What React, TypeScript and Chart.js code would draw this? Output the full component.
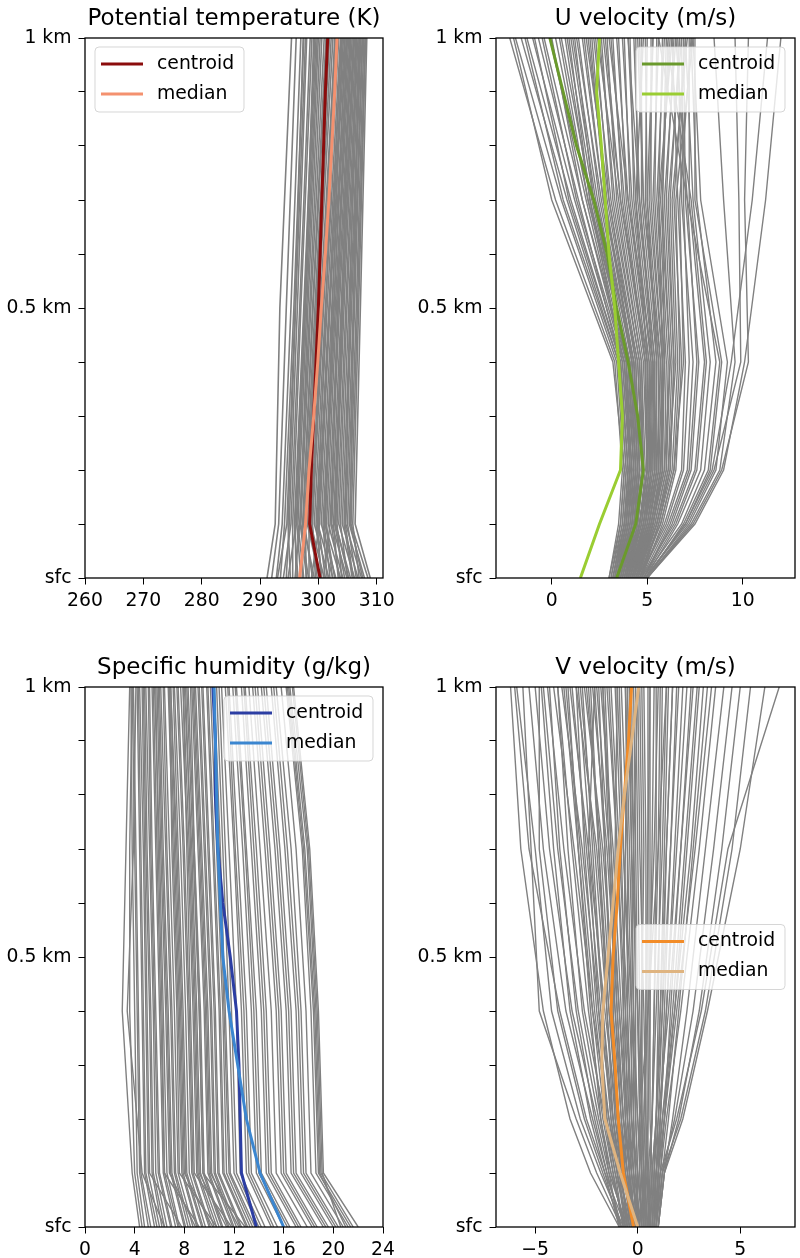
import React, { useEffect, useRef } from 'react';
import { Chart, registerables } from 'chart.js';

Chart.register(...registerables);

const FONT = "'DejaVu Sans', 'Liberation Sans', sans-serif";

// ---- shared height axis (km) ----
const heightTicks = [0, 0.1, 0.2, 0.3, 0.4, 0.5, 0.6, 0.7, 0.8, 0.9, 1.0];
const heightTickLabels = ['sfc', '', '', '', '', '0.5 km', '', '', '', '', '1 km'];
const summaryLevels = [0, 0.1, 0.2, 0.3, 0.4, 0.5, 0.6, 0.7, 0.8, 0.9, 1.0];

// ---- Potential temperature (K) ----
const thetaTicks = [260, 270, 280, 290, 300, 310];
const thetaLevels = [0, 0.1, 0.5, 1.0];
const thetaProfiles = [
  [291.2, 292.6, 293.4, 295.4], [292.0, 293.2, 294.5, 296.2], [292.8, 293.8, 295.3, 297.0],
  [293.5, 294.2, 295.8, 297.5], [293.0, 294.6, 296.0, 297.4], [294.5, 295.0, 296.4, 298.0],
  [294.0, 295.3, 296.8, 298.6], [295.6, 295.6, 297.0, 298.9], [296.5, 295.9, 297.5, 299.4],
  [294.8, 296.2, 297.8, 299.8], [297.5, 296.5, 298.0, 300.0], [296.0, 296.8, 298.5, 300.6],
  [298.3, 297.0, 298.7, 301.0], [297.2, 297.3, 299.0, 301.3], [299.0, 297.6, 299.4, 301.8],
  [296.8, 297.9, 299.8, 302.2], [300.2, 298.1, 300.0, 302.5], [298.5, 298.4, 300.3, 302.9],
  [301.0, 298.7, 300.6, 303.2], [299.5, 299.0, 300.9, 303.5], [301.8, 299.3, 301.2, 303.8],
  [300.6, 299.6, 301.5, 304.0], [302.5, 299.9, 301.8, 304.3], [298.8, 300.2, 302.0, 304.5],
  [303.0, 300.5, 302.3, 304.8], [301.5, 300.8, 302.6, 305.0], [303.8, 301.1, 302.9, 305.2],
  [302.4, 301.4, 303.1, 305.4], [304.2, 301.7, 303.4, 305.6], [300.9, 302.0, 303.6, 305.8],
  [304.9, 302.3, 303.9, 306.0], [303.4, 302.6, 304.1, 306.2], [305.5, 302.9, 304.4, 306.4],
  [304.0, 303.2, 304.7, 306.6], [306.2, 303.5, 304.9, 306.8], [305.0, 303.8, 305.2, 307.0],
  [306.8, 304.1, 305.5, 307.2], [305.8, 304.4, 305.7, 307.3], [307.4, 304.7, 306.0, 307.5],
  [306.5, 305.0, 306.2, 307.6], [307.9, 305.3, 306.5, 307.8], [308.5, 305.6, 306.7, 308.0],
  [307.0, 305.9, 306.9, 308.1], [308.9, 306.3, 307.2, 308.3], [299.8, 298.9, 300.7, 302.8],
  [297.9, 297.8, 299.6, 301.9], [301.2, 300.0, 301.9, 303.9], [296.2, 296.0, 297.6, 299.6],
  [302.0, 301.0, 302.7, 304.6], [304.5, 302.8, 304.2, 306.1], [295.2, 294.8, 296.1, 297.8],
  [297.0, 296.3, 297.7, 299.2], [299.3, 297.4, 299.1, 301.5], [300.5, 299.8, 301.3, 303.0],
  [302.8, 301.2, 302.4, 304.1], [305.2, 303.0, 304.0, 305.5], [306.0, 304.6, 305.4, 306.5],
  [298.0, 296.9, 298.2, 300.3], [303.6, 302.2, 303.3, 304.9], [307.6, 305.5, 306.0, 307.0],
];
const thetaCentroid = [300.3, 298.5, 298.8, 299.2, 299.6, 300.0, 300.3, 300.6, 300.9, 301.2, 301.6];
const thetaMedian = [296.8, 297.8, 298.4, 299.2, 299.9, 300.5, 301.2, 301.8, 302.3, 302.8, 303.2];

// ---- U velocity (m/s) ----
const uTicks = [0, 5, 10];
const uLevels = [0, 0.1, 0.2, 0.4, 0.7, 1.0];
const uProfiles = [
  [3.0, 3.5, 3.7, 3.3, 0.2, -2.2], [3.1, 3.6, 3.8, 3.4, 0.5, -1.9], [3.2, 3.7, 3.9, 3.5, 0.8, -1.6],
  [3.0, 3.6, 3.8, 3.2, 0.0, -2.0], [3.3, 3.8, 4.0, 3.6, 1.0, -1.3], [3.4, 3.9, 4.1, 3.7, 1.2, -1.0],
  [3.2, 3.8, 4.0, 3.6, 1.4, -0.7], [3.5, 4.0, 4.2, 3.8, 1.6, -0.4], [3.3, 3.9, 4.1, 3.8, 1.8, -0.1],
  [3.6, 4.1, 4.3, 3.9, 1.9, 0.2], [3.4, 4.0, 4.3, 4.0, 2.1, 0.5], [3.7, 4.2, 4.4, 4.0, 2.2, 0.8],
  [3.5, 4.1, 4.4, 4.1, 2.4, 1.1], [3.8, 4.3, 4.5, 4.2, 2.5, 1.4], [3.6, 4.2, 4.5, 4.3, 2.7, 1.7],
  [3.9, 4.4, 4.6, 4.3, 2.8, 2.0], [3.4, 3.9, 4.1, 3.7, 2.0, 0.9], [3.7, 4.3, 4.6, 4.4, 3.0, 2.3],
  [3.8, 4.5, 4.8, 4.6, 3.2, 2.6], [4.0, 4.6, 4.9, 4.7, 3.4, 2.9], [3.9, 4.6, 5.0, 4.9, 3.7, 3.2],
  [4.1, 4.8, 5.1, 5.0, 3.9, 3.5], [4.0, 4.7, 5.1, 5.1, 4.1, 3.8], [4.2, 4.9, 5.3, 5.2, 4.3, 4.1],
  [4.1, 4.9, 5.4, 5.4, 4.5, 4.4], [4.3, 5.0, 5.5, 5.5, 4.7, 4.7], [4.2, 5.1, 5.6, 5.6, 4.9, 5.0],
  [4.4, 5.2, 5.7, 5.8, 5.1, 5.3], [4.3, 5.2, 5.8, 5.9, 5.3, 5.6], [4.5, 5.3, 5.9, 6.0, 5.5, 5.9],
  [4.4, 5.4, 6.0, 6.2, 5.7, 6.2], [4.6, 5.5, 6.1, 6.3, 5.9, 6.5], [4.5, 5.5, 6.2, 6.4, 6.1, 6.8],
  [4.7, 5.6, 6.3, 6.6, 6.3, 7.1], [4.6, 5.7, 6.4, 6.7, 6.5, 7.4], [3.9, 4.5, 4.8, 4.5, 3.0, 1.8],
  [4.0, 4.7, 5.0, 4.8, 3.5, 2.4], [4.2, 4.9, 5.2, 5.0, 3.6, 2.7], [4.3, 5.1, 5.5, 5.3, 4.0, 3.0],
  [4.1, 4.8, 5.2, 5.3, 4.6, 4.0], [4.5, 5.3, 5.8, 5.7, 4.8, 4.5], [4.4, 5.2, 5.7, 5.9, 5.8, 6.0],
  [4.6, 5.9, 6.8, 7.0, 6.6, 6.3], [4.7, 6.1, 7.1, 7.4, 6.8, 6.6], [4.8, 6.3, 7.3, 7.7, 7.0, 6.9],
  [4.7, 6.4, 7.5, 8.0, 7.2, 7.2], [4.9, 6.6, 7.8, 8.3, 7.4, 7.0], [4.8, 6.8, 8.0, 8.6, 7.6, 7.3],
  [4.9, 7.0, 8.3, 8.9, 7.5, 7.5], [5.0, 7.2, 8.6, 9.2, 7.8, 7.4], [4.8, 6.5, 7.6, 8.1, 7.3, 6.0],
  [5.0, 6.9, 8.2, 8.8, 7.1, 5.6], [5.0, 7.3, 8.8, 9.6, 9.0, 8.5], [4.9, 7.1, 8.5, 9.9, 9.8, 9.6],
  [5.0, 7.4, 8.9, 10.3, 10.1, 10.3], [4.9, 7.0, 8.4, 9.4, 10.5, 11.3], [5.0, 7.5, 9.0, 10.1, 11.2, 12.0],
  [3.1, 3.7, 3.9, 3.5, 0.6, -1.4], [3.3, 3.8, 4.0, 3.6, 0.9, -0.9], [3.5, 4.0, 4.2, 3.8, 1.3, -0.5],
  [3.2, 3.8, 4.1, 3.9, 1.6, 0.0], [3.6, 4.2, 4.4, 4.1, 1.9, 0.4], [3.4, 4.0, 4.3, 4.0, 2.0, 0.7],
  [3.7, 4.3, 4.6, 4.3, 2.3, 1.0], [3.5, 4.2, 4.5, 4.2, 2.6, 1.3], [3.8, 4.4, 4.7, 4.5, 2.7, 1.6],
  [3.6, 4.3, 4.6, 4.4, 2.9, 1.9], [3.9, 4.5, 4.8, 4.6, 3.1, 2.2], [3.7, 4.4, 4.8, 4.7, 3.3, 2.5],
  [4.0, 4.6, 5.0, 4.9, 3.6, 2.8], [3.8, 4.6, 5.0, 4.9, 3.8, 3.1], [4.1, 4.8, 5.2, 5.1, 4.0, 3.4],
  [3.9, 4.7, 5.1, 5.2, 4.2, 3.7], [4.2, 5.0, 5.4, 5.3, 4.4, 4.0], [4.0, 4.8, 5.3, 5.4, 4.6, 4.3],
  [4.3, 5.1, 5.6, 5.6, 4.8, 4.6], [4.1, 5.0, 5.5, 5.7, 5.0, 4.9], [4.4, 5.3, 5.8, 5.8, 5.2, 5.2],
  [4.2, 5.2, 5.7, 5.9, 5.4, 5.5], [4.5, 5.4, 6.0, 6.1, 5.6, 5.8], [4.3, 5.3, 5.9, 6.2, 5.8, 6.1],
  [4.6, 5.6, 6.2, 6.4, 6.0, 6.4], [4.4, 5.5, 6.1, 6.5, 6.2, 6.7], [4.7, 5.8, 6.5, 6.8, 6.4, 7.0],
  [4.5, 5.7, 6.4, 6.9, 6.7, 7.3], [4.6, 6.0, 6.9, 7.2, 6.9, 6.8], [4.8, 6.2, 7.2, 7.6, 7.1, 6.5],
  [3.3, 3.9, 4.2, 3.9, 2.2, 1.2], [3.5, 4.1, 4.4, 4.2, 2.8, 2.1], [3.9, 4.6, 5.0, 5.0, 4.4, 4.8],
  [4.2, 5.1, 5.6, 5.8, 5.6, 6.3], [4.0, 4.9, 5.4, 5.5, 5.0, 5.3],
];
const uCentroid = [3.4, 4.4, 4.8, 4.5, 4.0, 3.4, 2.9, 2.2, 1.3, 0.6, -0.1];
const uMedian = [1.5, 2.5, 3.6, 3.7, 3.5, 3.3, 3.0, 2.8, 2.6, 2.35, 2.5];

// ---- Specific humidity (g/kg) ----
const qTicks = [0, 4, 8, 12, 16, 20, 24];
const qLevels = [0, 0.1, 0.4, 0.7, 1.0];
const qProfiles = [
  [4.4, 3.8, 3.0, 3.3, 3.6], [4.8, 4.2, 4.0, 3.8, 3.7], [5.3, 4.5, 4.3, 4.1, 3.9],
  [5.6, 4.8, 4.6, 4.4, 4.2], [6.0, 5.1, 4.9, 4.7, 4.4], [6.2, 5.4, 5.2, 4.9, 4.7],
  [6.6, 5.7, 5.5, 5.2, 4.9], [7.0, 6.0, 5.7, 5.4, 5.2], [7.3, 6.3, 6.0, 5.7, 5.4],
  [7.6, 6.6, 6.3, 6.0, 5.6], [8.0, 6.9, 6.6, 6.2, 5.9], [8.3, 7.2, 6.9, 6.5, 6.1],
  [8.7, 7.5, 7.2, 6.8, 6.4], [9.0, 7.8, 7.5, 7.1, 6.7], [9.4, 8.1, 7.8, 7.4, 6.9],
  [9.7, 8.4, 8.1, 7.7, 7.2], [10.1, 8.7, 8.4, 8.0, 7.5], [10.4, 9.0, 8.7, 8.3, 7.7],
  [10.8, 9.3, 9.0, 8.6, 8.0], [11.1, 9.6, 9.3, 8.8, 8.3], [11.5, 9.9, 9.6, 9.1, 8.6],
  [11.9, 10.2, 9.9, 9.4, 8.9], [12.2, 10.5, 10.2, 9.7, 9.2], [12.6, 10.8, 10.5, 10.0, 9.5],
  [13.0, 11.1, 10.8, 10.3, 9.8], [13.3, 11.4, 11.1, 10.6, 10.1], [13.7, 11.7, 11.3, 10.9, 10.4],
  [14.0, 12.0, 11.6, 11.1, 10.6], [7.8, 5.2, 5.0, 4.8, 4.6], [9.2, 6.4, 6.2, 5.9, 5.7],
  [10.6, 7.6, 7.4, 7.0, 6.8], [11.8, 8.8, 8.5, 8.2, 7.9], [6.4, 4.6, 3.4, 3.9, 4.1],
  [12.9, 9.5, 9.2, 8.8, 8.5], [14.5, 12.5, 12.2, 11.6, 11.0], [15.0, 13.0, 12.6, 12.0, 11.3],
  [15.5, 13.4, 13.0, 12.3, 11.6], [16.0, 13.8, 13.4, 12.7, 11.9], [16.5, 14.2, 13.8, 13.0, 12.2],
  [17.0, 14.6, 14.2, 13.4, 12.6], [17.4, 15.0, 14.6, 13.8, 12.9], [17.9, 15.4, 15.0, 14.1, 13.2],
  [18.3, 15.8, 15.4, 14.5, 13.5], [18.7, 16.2, 15.8, 14.9, 13.9], [19.2, 16.6, 16.2, 15.3, 14.2],
  [19.6, 17.0, 16.6, 15.7, 14.6], [20.0, 17.4, 17.0, 16.1, 15.0], [20.4, 17.8, 17.4, 16.6, 15.4],
  [20.8, 18.2, 17.8, 17.0, 15.8], [21.2, 18.6, 18.2, 17.5, 16.2], [21.6, 19.0, 18.6, 17.9, 16.5],
  [22.0, 19.2, 18.8, 18.1, 16.8], [20.6, 19.1, 18.7, 18.0, 16.7], [21.0, 18.9, 18.5, 17.7, 16.4],
  [4.6, 4.0, 3.6, 3.6, 3.8], [5.1, 4.4, 4.2, 4.0, 3.8], [5.8, 4.9, 4.7, 4.5, 4.3],
  [6.4, 5.5, 5.3, 5.0, 4.8], [6.9, 5.9, 5.6, 5.3, 5.1], [7.5, 6.4, 6.1, 5.8, 5.5],
  [8.1, 7.0, 6.7, 6.3, 6.0], [8.5, 7.3, 7.0, 6.6, 6.3], [9.1, 7.9, 7.6, 7.2, 6.8],
  [9.5, 8.2, 7.9, 7.5, 7.1], [10.0, 8.6, 8.3, 7.9, 7.4], [10.6, 9.1, 8.8, 8.4, 7.9],
  [11.0, 9.5, 9.2, 8.7, 8.2], [11.6, 10.0, 9.7, 9.2, 8.7], [12.0, 10.4, 10.1, 9.6, 9.1],
  [12.5, 10.7, 10.4, 9.9, 9.4], [13.1, 11.2, 10.9, 10.4, 9.9], [13.5, 11.6, 11.2, 10.8, 10.3],
  [14.2, 12.2, 11.8, 11.3, 10.8], [8.9, 6.8, 6.5, 6.1, 5.8], [10.3, 8.0, 7.7, 7.3, 6.9],
  [11.4, 9.2, 8.9, 8.5, 8.1], [12.4, 10.1, 9.8, 9.3, 8.8], [15.2, 13.2, 12.8, 12.1, 11.5],
  [16.3, 14.0, 13.6, 12.9, 12.1], [17.2, 14.8, 14.4, 13.6, 12.8], [18.5, 16.0, 15.6, 14.7, 13.7],
  [19.4, 16.8, 16.4, 15.5, 14.4], [20.2, 17.6, 17.2, 16.3, 15.2], [21.4, 18.8, 18.4, 17.6, 16.3],
];
const qCentroid = [13.8, 12.6, 12.5, 12.4, 12.2, 11.7, 11.1, 10.7, 10.5, 10.5, 10.3];
const qMedian = [16.0, 14.1, 13.0, 12.3, 11.6, 11.1, 10.9, 10.7, 10.6, 10.5, 10.4];

// ---- V velocity (m/s) ----
const vTicks = [-5, 0, 5];
const vLevels = [0, 0.1, 0.2, 0.4, 0.7, 1.0];
const vProfiles = [
  [-0.9, -2.3, -3.3, -4.6, -5.7, -6.2], [-0.8, -2.0, -3.0, -4.8, -5.2, -5.6], [-0.7, -1.8, -2.8, -4.2, -5.0, -5.9],
  [-0.6, -1.6, -2.5, -3.8, -5.3, -6.0], [-0.8, -1.5, -2.2, -3.5, -4.6, -5.3], [-0.5, -1.4, -2.0, -3.2, -4.3, -5.0],
  [-0.6, -1.3, -1.9, -2.9, -3.9, -4.6], [-0.4, -1.1, -1.6, -2.6, -3.6, -4.4], [-0.7, -1.2, -1.7, -2.4, -3.2, -3.9],
  [-0.3, -0.9, -1.4, -2.2, -3.1, -4.1], [-0.5, -1.0, -1.5, -2.1, -2.8, -3.5], [-0.2, -0.8, -1.2, -1.9, -2.7, -3.7],
  [-0.4, -0.9, -1.3, -1.8, -2.5, -3.2], [-0.1, -0.6, -1.0, -1.6, -2.4, -3.3], [-0.3, -0.7, -1.1, -1.5, -2.1, -2.8],
  [0.0, -0.5, -0.9, -1.4, -2.0, -3.0], [-0.2, -0.6, -0.9, -1.3, -1.8, -2.5], [0.1, -0.3, -0.7, -1.1, -1.7, -2.6],
  [-0.1, -0.4, -0.7, -1.0, -1.5, -2.2], [0.2, -0.2, -0.5, -0.9, -1.4, -2.0], [0.0, -0.3, -0.5, -0.8, -1.2, -1.8],
  [0.3, 0.0, -0.3, -0.6, -1.0, -1.5], [0.1, -0.1, -0.3, -0.5, -0.9, -1.3], [0.4, 0.2, 0.0, -0.3, -0.7, -1.0],
  [0.2, 0.0, -0.1, -0.3, -0.5, -0.8], [0.5, 0.3, 0.2, 0.0, -0.3, -0.5], [0.3, 0.2, 0.1, 0.0, -0.1, -0.2],
  [0.6, 0.5, 0.4, 0.3, 0.1, 0.0], [0.4, 0.4, 0.4, 0.4, 0.4, 0.3], [0.7, 0.7, 0.6, 0.6, 0.6, 0.6],
  [0.5, 0.6, 0.7, 0.8, 0.9, 0.9], [0.8, 0.8, 0.9, 1.0, 1.1, 1.2], [0.6, 0.7, 0.9, 1.1, 1.3, 1.5],
  [0.9, 1.0, 1.1, 1.3, 1.6, 1.9], [0.7, 0.9, 1.1, 1.4, 1.8, 2.2], [0.9, 1.1, 1.3, 1.6, 2.1, 2.6],
  [0.8, 1.0, 1.3, 1.8, 2.4, 3.0], [1.0, 1.2, 1.5, 2.0, 2.7, 3.4], [0.9, 1.1, 1.4, 2.1, 3.0, 3.8],
  [1.0, 1.3, 1.7, 2.4, 3.3, 4.2], [0.9, 1.2, 1.8, 2.7, 3.7, 4.6], [1.0, 1.3, 2.0, 3.0, 4.1, 5.0],
  [0.9, 1.2, 2.1, 3.3, 4.6, 5.5], [1.0, 1.3, 2.2, 3.4, 5.0, 6.2], [0.8, 1.1, 1.9, 3.1, 4.4, 6.9],
  [-0.6, -1.0, -1.3, -1.7, -2.2, -2.7], [-0.3, -0.5, -0.7, -1.0, -1.3, -1.6], [0.0, -0.1, -0.2, -0.2, -0.3, -0.4],
  [0.3, 0.3, 0.2, 0.2, 0.2, 0.1], [0.6, 0.4, 0.3, 0.5, 0.8, 1.0], [-0.9, -1.4, -1.8, -2.3, -2.9, -3.4],
  [0.8, 0.9, 1.0, 1.2, 1.4, 1.7], [-0.5, -0.8, -1.1, -1.2, -1.1, -1.0], [0.2, 0.1, 0.1, 0.5, 1.0, 1.4],
  [-0.2, -0.4, -0.6, -0.7, -0.6, -0.5], [-0.8, -1.7, -2.6, -3.9, -4.8, -4.8],
  [-0.7, -1.2, -1.6, -2.2, -2.9, -3.6], [-0.5, -1.0, -1.4, -2.0, -2.6, -3.0], [-0.4, -0.9, -1.2, -1.7, -2.3, -2.9],
  [-0.6, -0.9, -1.2, -1.5, -1.9, -2.3], [-0.3, -0.7, -1.0, -1.4, -1.9, -2.4], [-0.2, -0.5, -0.8, -1.2, -1.6, -2.1],
  [-0.4, -0.6, -0.8, -1.1, -1.4, -1.7], [-0.1, -0.4, -0.6, -0.9, -1.3, -1.7], [0.0, -0.2, -0.4, -0.7, -1.0, -1.4],
  [-0.3, -0.4, -0.5, -0.6, -0.8, -1.1], [0.1, -0.1, -0.2, -0.4, -0.7, -0.9], [0.2, 0.1, 0.0, -0.2, -0.4, -0.6],
  [0.0, 0.0, -0.1, -0.1, -0.2, -0.3], [0.4, 0.3, 0.2, 0.1, 0.0, -0.1], [0.1, 0.2, 0.2, 0.2, 0.3, 0.2],
  [0.5, 0.5, 0.5, 0.5, 0.5, 0.5], [0.3, 0.4, 0.5, 0.6, 0.7, 0.8], [0.6, 0.6, 0.7, 0.8, 1.0, 1.1],
  [0.4, 0.5, 0.7, 0.9, 1.2, 1.4], [0.7, 0.8, 0.9, 1.1, 1.4, 1.7], [0.5, 0.7, 0.9, 1.2, 1.6, 2.0],
  [0.8, 0.9, 1.1, 1.4, 1.9, 2.4], [0.6, 0.8, 1.0, 1.5, 2.1, 2.7], [0.9, 1.0, 1.2, 1.7, 2.3, 2.9],
  [0.7, 0.9, 1.2, 1.8, 2.6, 3.2], [-0.8, -1.5, -2.1, -3.0, -3.8, -4.3], [-0.6, -1.3, -1.8, -2.7, -3.4, -3.9],
  [-0.9, -1.6, -2.3, -3.3, -4.1, -4.7], [-0.5, -0.8, -1.0, -1.3, -1.6, -1.9], [-0.2, -0.3, -0.4, -0.5, -0.5, -0.6],
  [0.3, 0.2, 0.1, 0.0, -0.2, -0.4], [0.2, 0.3, 0.3, 0.4, 0.5, 0.6], [-0.1, -0.2, -0.3, -0.3, -0.2, 0.0],
  [0.8, 1.0, 1.3, 1.9, 2.8, 3.6], [-0.7, -1.1, -1.5, -1.9, -2.4, -2.1],
];
const vCentroid = [-0.2, -0.7, -0.95, -1.1, -1.3, -1.2, -1.0, -0.85, -0.65, -0.45, -0.3];
const vMedian = [0.0, -0.85, -1.6, -1.75, -1.7, -1.45, -1.2, -0.95, -0.65, -0.3, 0.05];

type PanelCfg = {
  title: string;
  levels: number[];
  profiles: number[][];
  centroid: number[];
  median: number[];
  xTicks: number[];
  xMin: number;
  xMax: number;
  centroidColor: string;
  medianColor: string;
  legendLoc: 'upper left' | 'upper right' | 'center right';
  left: number;
  top: number;
  axisLeft: number;
  padRight: number;
  padTop: number;
  xAxisHeight: number;
  grayWidth: number;
};

const CW = 400;
const CH = 629;

const panels: PanelCfg[] = [
  {
    title: 'Potential temperature (K)', levels: thetaLevels, profiles: thetaProfiles,
    centroid: thetaCentroid, median: thetaMedian, xTicks: thetaTicks, xMin: 260, xMax: 311.08,
    centroidColor: '#8b0c0c', medianColor: '#f4916f', legendLoc: 'upper left',
    left: 0, top: 0, axisLeft: 85, padRight: 17, padTop: 0, xAxisHeight: 51, grayWidth: 1.6,
  },
  {
    title: 'U velocity (m/s)', levels: uLevels, profiles: uProfiles,
    centroid: uCentroid, median: uMedian, xTicks: uTicks, xMin: -2.92, xMax: 12.74,
    centroidColor: '#6a9a2c', medianColor: '#9acd32', legendLoc: 'upper right',
    left: 400, top: 0, axisLeft: 96, padRight: 5, padTop: 0, xAxisHeight: 51, grayWidth: 1.4,
  },
  {
    title: 'Specific humidity (g/kg)', levels: qLevels, profiles: qProfiles,
    centroid: qCentroid, median: qMedian, xTicks: qTicks, xMin: 0, xMax: 24,
    centroidColor: '#2c3ea3', medianColor: '#3b86d0', legendLoc: 'upper right',
    left: 0, top: 629, axisLeft: 85, padRight: 17, padTop: 20, xAxisHeight: 31, grayWidth: 1.4,
  },
  {
    title: 'V velocity (m/s)', levels: vLevels, profiles: vProfiles,
    centroid: vCentroid, median: vMedian, xTicks: vTicks, xMin: -6.91, xMax: 7.67,
    centroidColor: '#f28c28', medianColor: '#dfb480', legendLoc: 'center right',
    left: 400, top: 629, axisLeft: 96, padRight: 5, padTop: 20, xAxisHeight: 31, grayWidth: 1.4,
  },
];

const toPoints = (levels: number[], values: number[]) =>
  values.map((v, i) => ({ x: v, y: levels[i] }));

const fmtTick = (v: number) => (v < 0 ? '\u2212' + Math.abs(v) : String(v));

function roundRectPath(ctx: CanvasRenderingContext2D, x: number, y: number, w: number, h: number, r: number) {
  ctx.beginPath();
  ctx.moveTo(x + r, y);
  ctx.lineTo(x + w - r, y);
  ctx.arcTo(x + w, y, x + w, y + r, r);
  ctx.lineTo(x + w, y + h - r);
  ctx.arcTo(x + w, y + h, x + w - r, y + h, r);
  ctx.lineTo(x + r, y + h);
  ctx.arcTo(x, y + h, x, y + h - r, r);
  ctx.lineTo(x, y + r);
  ctx.arcTo(x, y, x + r, y, r);
  ctx.closePath();
}

function makeOverlay(cfg: PanelCfg) {
  return {
    id: 'mplOverlay',
    afterDatasetsDraw(chart: any) {
      const { ctx, chartArea: a } = chart;
      ctx.save();
      ctx.strokeStyle = '#000';
      ctx.lineWidth = 1.3;
      ctx.strokeRect(a.left, a.top, a.right - a.left, a.bottom - a.top);
      const w = 149;
      const h = 65;
      const x = cfg.legendLoc === 'upper left' ? a.left + 10 : a.right - 10 - w;
      const y = cfg.legendLoc === 'center right' ? (a.top + a.bottom) / 2 - h / 2 : a.top + 9;
      roundRectPath(ctx, x, y, w, h, 4);
      ctx.fillStyle = 'rgba(255,255,255,0.8)';
      ctx.fill();
      ctx.strokeStyle = 'rgba(204,204,204,0.8)';
      ctx.lineWidth = 1;
      ctx.stroke();
      const entries = ['centroid', 'median']
        .map((l) => chart.data.datasets.find((d: any) => d.label === l))
        .filter(Boolean);
      entries.forEach((ds: any, i: number) => {
        const cy = y + 17 + i * 30;
        ctx.beginPath();
        ctx.moveTo(x + 6, cy);
        ctx.lineTo(x + 48, cy);
        ctx.strokeStyle = ds.borderColor;
        ctx.lineWidth = 3;
        ctx.lineCap = 'butt';
        ctx.stroke();
        ctx.fillStyle = '#000';
        ctx.font = `18.8px ${FONT}`;
        ctx.textBaseline = 'middle';
        ctx.textAlign = 'left';
        ctx.fillText(ds.label, x + 62, cy);
      });
      ctx.restore();
    },
  };
}

function Panel({ cfg }: { cfg: PanelCfg }) {
  const ref = useRef<HTMLCanvasElement | null>(null);
  useEffect(() => {
    if (!ref.current) return;
    const datasets: any[] = [
      {
        label: 'median', data: toPoints(summaryLevels, cfg.median), borderColor: cfg.medianColor,
        borderWidth: 3, showLine: true, pointRadius: 0, tension: 0,
      },
      {
        label: 'centroid', data: toPoints(summaryLevels, cfg.centroid), borderColor: cfg.centroidColor,
        borderWidth: 3, showLine: true, pointRadius: 0, tension: 0,
      },
      ...cfg.profiles.map((row) => ({
        data: toPoints(cfg.levels, row), borderColor: 'rgb(128,128,128)',
        borderWidth: cfg.grayWidth, showLine: true, pointRadius: 0, tension: 0,
      })),
    ];
    const tickFont = { size: 18.8, family: FONT };
    const chart = new Chart(ref.current, {
      type: 'scatter',
      data: { datasets },
      options: {
        animation: false,
        responsive: false,
        events: [],
        layout: { padding: { left: 0, right: cfg.padRight, top: cfg.padTop, bottom: 0 } },
        plugins: {
          legend: { display: false },
          tooltip: { enabled: false },
          title: {
            display: true, text: cfg.title, fullSize: false, color: '#000',
            font: { size: 23, family: FONT, weight: 'normal' }, padding: { top: 5, bottom: 5.4 },
          },
        },
        scales: {
          x: {
            type: 'linear', min: cfg.xMin, max: cfg.xMax,
            afterBuildTicks: (s: any) => { s.ticks = cfg.xTicks.map((v) => ({ value: v })); },
            afterFit: (s: any) => { s.height = cfg.xAxisHeight; },
            ticks: {
              callback: (v: any) => fmtTick(Number(v)), font: tickFont, color: '#000',
              padding: 5, maxRotation: 0, autoSkip: false,
            },
            grid: { drawOnChartArea: false, drawTicks: true, tickLength: 6.5, color: '#000', lineWidth: 1 },
            border: { display: false },
          },
          y: {
            type: 'linear', min: 0, max: 1,
            afterBuildTicks: (s: any) => { s.ticks = heightTicks.map((v) => ({ value: v })); },
            afterFit: (s: any) => { s.width = cfg.axisLeft; },
            ticks: {
              callback: (_v: any, i: number) => heightTickLabels[i], font: tickFont, color: '#000',
              padding: 7, autoSkip: false,
            },
            grid: { drawOnChartArea: false, drawTicks: true, tickLength: 6.5, color: '#000', lineWidth: 1 },
            border: { display: false },
          },
        },
      } as any,
      plugins: [makeOverlay(cfg)],
    });
    return () => chart.destroy();
  }, [cfg]);
  return (
    <canvas
      ref={ref}
      width={CW}
      height={CH}
      style={{ position: 'absolute', left: cfg.left, top: cfg.top, width: CW, height: CH }}
    />
  );
}

export default function App() {
  return (
    <div style={{ position: 'absolute', left: 0, top: 0, width: 800, height: 1258, background: '#fff', overflow: 'hidden' }}>
      {panels.map((p) => (
        <Panel key={p.title} cfg={p} />
      ))}
    </div>
  );
}
